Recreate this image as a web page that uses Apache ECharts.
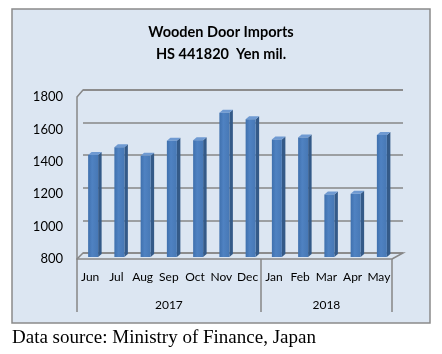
<!DOCTYPE html>
<html>
<head>
<meta charset="utf-8">
<script src="https://cdn.jsdelivr.net/npm/echarts@6/dist/echarts.min.js"></script>
<style>
html, body { margin: 0; padding: 0; background: #fff; }
#main { width: 442px; height: 354px; }
</style>
</head>
<body>
<div id="main"></div>
<script>
// Wooden door imports, HS 441820, Yen mil.
var months = ['Jun', 'Jul', 'Aug', 'Sep', 'Oct', 'Nov', 'Dec', 'Jan', 'Feb', 'Mar', 'Apr', 'May'];
var years = ['', '', '', '2017', '', '', '', '', '', '2018', '', ''];
var imports = [1430, 1478, 1425, 1518, 1520, 1690, 1650, 1526, 1538, 1186, 1190, 1553];
var yTicks = [800, 1000, 1200, 1400, 1600, 1800];

var myChart = echarts.init(document.getElementById('main'));

var lineColor = '#878787';

function renderBar(params, api) {
    var idx = api.value(0);
    var top = api.coord([idx, api.value(1)]);
    var base = api.coord([idx, yTicks[0]]);
    var cx = top[0] + 3, hw = 5;
    var y0 = top[1] - 2, y1 = base[1] - 2;
    var dx = 3.5, dy = -3;
    return {
        type: 'group',
        children: [
            {
                type: 'polygon',
                shape: { points: [[cx + hw, y0], [cx + hw + dx, y0 + dy], [cx + hw + dx, y1 + dy], [cx + hw, y1]] },
                style: { fill: '#345a88' }
            },
            {
                type: 'polygon',
                shape: { points: [[cx - hw, y0], [cx - hw + dx, y0 + dy], [cx + hw + dx, y0 + dy], [cx + hw, y0]] },
                style: { fill: '#6f9ad2' }
            },
            {
                type: 'rect',
                shape: { x: cx - hw, y: y0, width: hw * 2, height: y1 - y0 },
                style: {
                    fill: new echarts.graphic.LinearGradient(0, 0, 1, 0, [
                        { offset: 0, color: '#3f70ad' },
                        { offset: 0.4, color: '#4f82c2' },
                        { offset: 1, color: '#4778b5' }
                    ])
                }
            }
        ]
    };
}

var option = {
    backgroundColor: '#fff',
    animation: false,
    textStyle: { fontFamily: 'Lato, "Open Sans", sans-serif' },
    graphic: [
        {
            type: 'rect', z: -10,
            shape: { x: 12, y: 9, width: 418, height: 314 },
            style: { fill: '#dce6f2', stroke: '#8a8a8a', lineWidth: 1.5 }
        },
        {
            type: 'polyline', z: 5,
            shape: { points: [[77, 97], [83, 90], [403, 90]] },
            style: { stroke: lineColor, lineWidth: 1.5, fill: null }
        },
        {
            type: 'polyline', z: 5,
            shape: { points: [[77, 259], [83, 253], [403, 253], [392, 259]] },
            style: { stroke: lineColor, lineWidth: 1.5, fill: null }
        },
        {
            type: 'text', left: 12, top: 329,
            style: {
                text: 'Data source: Ministry of Finance, Japan',
                font: '19px "Liberation Serif", "Times New Roman", serif',
                fill: '#000'
            }
        }
    ],
    title: {
        text: 'Wooden Door Imports\nHS 441820  Yen mil.',
        left: 'center',
        top: 16,
        textStyle: { fontSize: 14.5, fontWeight: 'bold', color: '#000', lineHeight: 22, fontFamily: 'Lato, "Open Sans", sans-serif' }
    },
    grid: [
        { left: 77, right: 50, top: 97, bottom: 95 },
        { left: 83, right: 39, top: 90, bottom: 101 }
    ],
    xAxis: [
        {
            type: 'category', gridIndex: 0, data: months,
            axisLine: { lineStyle: { color: lineColor, width: 1.5 } },
            axisTick: { show: false },
            axisLabel: { color: '#000', fontSize: 12, margin: 12, interval: 0 }
        },
        {
            type: 'category', gridIndex: 0, data: years, position: 'bottom',
            axisLine: { show: false },
            axisTick: {
                show: true, length: 53,
                interval: function (index) { return index === 0 || index === 7; },
                lineStyle: { color: lineColor, width: 1.5 }
            },
            axisLabel: { color: '#000', fontSize: 12, margin: 40, interval: 0 }
        },
        {
            type: 'category', gridIndex: 1, data: months, show: false
        }
    ],
    yAxis: [
        {
            type: 'value', gridIndex: 0, min: 800, max: 1800, interval: 200,
            axisLine: { show: true, lineStyle: { color: lineColor, width: 1.5 } },
            axisTick: { show: false },
            splitLine: { show: false },
            axisLabel: { color: '#000', fontSize: 13, margin: 14, formatter: function (v) { return String(v); } }
        },
        {
            type: 'value', gridIndex: 1, min: 800, max: 1800, interval: 200,
            axisLine: { show: false },
            axisTick: { show: false },
            axisLabel: { show: false },
            splitLine: { show: true, lineStyle: { color: lineColor, width: 1.5 } }
        }
    ],
    series: [
        {
            type: 'custom',
            xAxisIndex: 0,
            yAxisIndex: 0,
            z: 10,
            renderItem: renderBar,
            encode: { x: 0, y: 1 },
            data: imports.map(function (v, i) { return [i, v]; })
        }
    ]
};

myChart.setOption(option);
</script>
</body>
</html>
